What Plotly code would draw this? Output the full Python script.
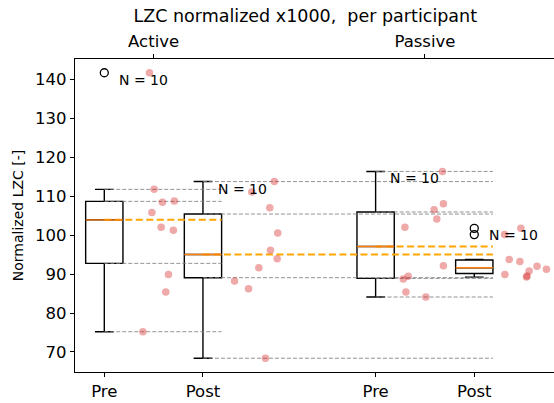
import numpy as np
import plotly.graph_objects as go

# ---- data ----
groups = ["Active Pre", "Active Post", "Passive Pre", "Passive Post"]
tick_labels = ["Pre", "Post", "Pre", "Post"]
cond_labels = ["Active", "Passive"]
positions = [1.0, 2.0, 3.75, 4.75]

active_pre = [111.7, 108.4, 108.7, 105.8, 102.0, 101.2, 89.9, 85.4, 75.2, 141.6]
active_post = [113.7, 111.0, 107.0, 100.5, 96.1, 93.9, 91.6, 88.2, 86.2, 68.4]
passive_pre = [116.3, 108.0, 106.5, 104.1, 102.0, 92.1, 89.4, 88.7, 85.4, 84.1]
passive_post = [101.7, 100.1, 93.7, 93.2, 92.0, 91.2, 90.8, 89.9, 89.5, 89.2]

# horizontal jitter of the participant dots (offset to the right of each box)
jitter_active_pre = [0.505, 0.589, 0.710, 0.482, 0.576, 0.700, 0.650, 0.623, 0.391, 0.458]
jitter_active_post = [0.724, 0.495, 0.677, 0.758, 0.684, 0.752, 0.566, 0.320, 0.462, 0.633]
jitter_passive_pre = [0.677, 0.687, 0.593, 0.620, 0.297, 0.687, 0.330, 0.280, 0.307, 0.509]
jitter_passive_post = [0.472, 0.307, 0.354, 0.462, 0.636, 0.731, 0.556, 0.310, 0.535, 0.529]

n_labels = ["N = 10", "N = 10", "N = 10", "N = 10"]
title = "LZC normalized x1000,  per participant"
ylabel = "Normalized LZC [-]"

# reference lines: (box index, end position index) drawn from box centre to end box right edge
ref_lines = [(0, 1), (1, 3), (2, 3)]

data = [active_pre, active_post, passive_pre, passive_post]
jitters = [jitter_active_pre, jitter_active_post, jitter_passive_pre, jitter_passive_post]

BOX_W = 0.378
FONT = "DejaVu Sans"


def stats(vals):
    a = np.array(vals, dtype=float)
    q1, med, q3 = np.percentile(a, [25, 50, 75])
    iqr = q3 - q1
    hi = a[a <= q3 + 1.5 * iqr].max()
    lo = a[a >= q1 - 1.5 * iqr].min()
    out = a[(a > hi) | (a < lo)]
    return dict(q1=q1, med=med, q3=q3, hi=hi, lo=lo, out=out)


S = [stats(d) for d in data]

fig = go.Figure()

# grey dashed reference lines and orange dashed median lines
for bi, ei in ref_lines:
    x0 = positions[bi]
    x1 = positions[ei] + BOX_W / 2
    st = S[bi]
    for v in [st["hi"], st["q3"], st["q1"], st["lo"]]:
        fig.add_trace(go.Scatter(x=[x0, x1], y=[v, v], mode="lines",
                                 line=dict(color="rgba(128,128,128,0.85)", width=1, dash="4px,2px"),
                                 hoverinfo="skip", showlegend=False))
    fig.add_trace(go.Scatter(x=[x0, x1], y=[st["med"], st["med"]], mode="lines",
                             line=dict(color="#FFA500", width=2, dash="7px,3.5px"),
                             hoverinfo="skip", showlegend=False))

# boxes
for i, st in enumerate(S):
    p = positions[i]
    fig.add_trace(go.Box(x=[p], q1=[st["q1"]], median=[st["med"]], q3=[st["q3"]],
                         lowerfence=[st["lo"]], upperfence=[st["hi"]],
                         width=BOX_W, whiskerwidth=0.5, boxpoints=False,
                         line=dict(color="black", width=1.4),
                         fillcolor="rgba(0,0,0,0)", showlegend=False, hoverinfo="skip"))
    fig.add_trace(go.Scatter(x=[p - BOX_W / 2, p + BOX_W / 2], y=[st["med"], st["med"]],
                             mode="lines", line=dict(color="#ff7f0e", width=1.3),
                             hoverinfo="skip", showlegend=False))
    if len(st["out"]):
        fig.add_trace(go.Scatter(x=[p] * len(st["out"]), y=list(st["out"]), mode="markers",
                                 marker=dict(symbol="circle-open", size=8,
                                             line=dict(color="black", width=1.3), color="black"),
                                 hoverinfo="skip", showlegend=False))

# participant dots
for i, vals in enumerate(data):
    xs = [positions[i] + j for j in jitters[i]]
    fig.add_trace(go.Scatter(x=xs, y=vals, mode="markers",
                             marker=dict(color="rgba(214,39,40,0.4)", size=7.5, line=dict(width=0)),
                             hoverinfo="skip", showlegend=False))

# N labels
for i, vals in enumerate(data):
    fig.add_annotation(x=positions[i] + 0.13, y=max(vals), text=n_labels[i],
                       xanchor="left", yanchor="top", showarrow=False, yshift=3,
                       font=dict(family=FONT, size=14, color="black"))

# dummy trace for the top axis
fig.add_trace(go.Scatter(x=[1.5], y=[100], xaxis="x2", mode="markers",
                         marker=dict(opacity=0), hoverinfo="skip", showlegend=False))

xr = [0.703, 5.558]
axis_common = dict(showline=True, linecolor="black", linewidth=1.3, ticks="outside",
                   ticklen=4, tickwidth=1.1, tickcolor="black", showgrid=False, zeroline=False,
                   tickfont=dict(family=FONT, size=16.5, color="black"))

fig.update_layout(
    width=554, height=403,
    margin=dict(l=75, r=0, t=59, b=31),
    paper_bgcolor="white", plot_bgcolor="white",
    boxmode="overlay",
    title=dict(text=title, x=0.551, xref="container", xanchor="center",
               y=1 - 15.5 / 403, yref="container", yanchor="middle",
               font=dict(family=FONT, size=17.5, color="black")),
    xaxis=dict(range=xr, tickmode="array", tickvals=positions, ticktext=tick_labels,
               **axis_common),
    xaxis2=dict(range=xr, overlaying="x", side="top", tickmode="array",
                tickvals=[(positions[0] + positions[1]) / 2, (positions[2] + positions[3]) / 2],
                ticktext=cond_labels, **axis_common),
    yaxis=dict(range=[64.87, 145.13], tickmode="array", tickvals=list(range(70, 141, 10)),
               title=dict(text=ylabel, font=dict(family=FONT, size=14, color="black"), standoff=8),
               **axis_common),
    font=dict(family=FONT),
)

fig.write_html("out.html")
